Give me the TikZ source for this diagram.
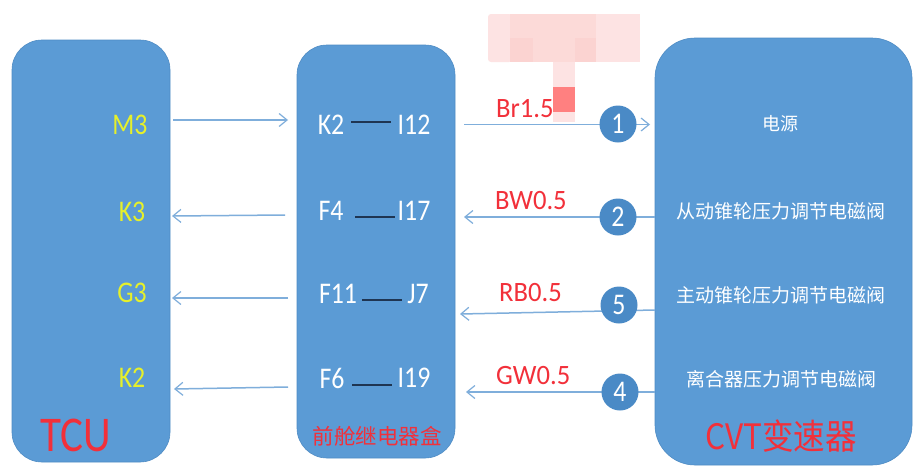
\documentclass[tikz,border=0pt]{standalone}
\usepackage{fontspec}
\setmainfont{Carlito}
\newfontfamily\cjk{Noto Sans CJK SC}
\newfontfamily\narrow[FakeStretch=.86]{Carlito}
\newfontfamily\semi[FakeStretch=.95]{Carlito}
\newfontfamily\cjknarrow[FakeStretch=.9]{Noto Sans CJK SC}
\definecolor{boxblue}{HTML}{5B9BD5}
\definecolor{circblue}{HTML}{4A8AC6}
\definecolor{edgeblue}{HTML}{4F8CC4}
\definecolor{arrowblue}{HTML}{7FAEDB}
\definecolor{labred}{HTML}{F2303A}
\definecolor{lime}{HTML}{E6F02A}
\definecolor{pinkA}{HTML}{FDE3E3}
\definecolor{pinkB}{HTML}{FBD3D1}
\definecolor{pinkC}{HTML}{FCDAD8}
\definecolor{pinkD}{HTML}{FF8080}
\definecolor{darkline}{HTML}{1F3552}
\usetikzlibrary{arrows.meta}
\tikzset{
  x=1pt,y=-1pt,
  panel/.style={draw=edgeblue,line width=.6pt,fill=boxblue,rounded corners=30pt,inner sep=0pt,minimum width=#1},
  pin/.style={text=lime,font=\narrow\fontsize{30}{30}\selectfont,inner sep=0pt},
  term/.style={text=white,font=\narrow\fontsize{30}{30}\selectfont,inner sep=0pt},
  wire/.style={text=labred,font=\semi\fontsize{28}{28}\selectfont,inner sep=0pt},
  func/.style={text=white,font=\cjk\fontsize{19}{19}\selectfont,inner sep=0pt},
  numc/.style={circle,fill=circblue,minimum size=37pt,inner sep=0pt,text=white,font=\narrow\fontsize{30}{30}\selectfont},
  conn/.style={draw=arrowblue,line width=1.5pt,-{Straight Barb[length=8pt,width=13pt,line width=1.2pt]}},
  link/.style={draw=darkline,line width=1.5pt},
}
\begin{document}
\begin{tikzpicture}
\useasboundingbox (0,0) rectangle (917,474);
\fill[white] (0,0) rectangle (917,474);
% panels
\node[panel=158pt,minimum height=422pt] (tcu) at (91,251) {};
\node[panel=158pt,minimum height=413pt] (relay) at (376,251.5) {};
\node[panel=257pt,minimum height=427pt,rounded corners=40pt] (cvt) at (783.5,251.5) {};
% mosaic
\fill[pinkA,rounded corners=3pt] (488,14) rectangle (512,62);
\fill[pinkC] (510,14) rectangle (533,38);
\fill[pinkB] (510,38) rectangle (533,62);
\fill[pinkC] (533,14) rectangle (552,62);
\fill[pinkC] (552,14) rectangle (575,62);
\fill[pinkC] (575,14) rectangle (596,38);
\fill[pinkB] (575,38) rectangle (596,62);
\fill[pinkA] (596,14) rectangle (640,62);
\fill[pinkA] (553,62) rectangle (575,87);
% TCU pins
\node[pin] (m3) at (130,125) {M3};
\node[pin] (k3) at (132,212) {K3};
\node[pin] (g3) at (132,293) {G3};
\node[pin] (k2) at (132,378) {K2};
\node[text=labred,font=\narrow\fontsize{50}{50}\selectfont,inner sep=0pt] (tcuT) at (76,435) {TCU};
% relay terminals
\node[term] (a1) at (331,125) {K2};
\node[term] (a2) at (414,125) {I12};
\node[term] (b1) at (331,211) {F4};
\node[term] (b2) at (414,211) {I17};
\node[term] (c1) at (338,294) {F11};
\node[term] (c2) at (418,294) {J7};
\node[term] (d1) at (332,378) {F6};
\node[term] (d2) at (414,378) {I19};
\draw[link] (351,122) -- (391,122);
\draw[link] (355,217) -- (395,217);
\draw[link] (362,300) -- (402,300);
\draw[link] (352,385) -- (392,385);
\node[text=labred,font=\cjk\fontsize{21.5}{22}\selectfont,inner sep=0pt] (relayT) at (377,436) {前舱继电器盒};
% CVT
\node[func,font=\cjk\fontsize{18}{18}\selectfont] (f1) at (780,124) {电源};
\node[func] (f2) at (781,211) {从动锥轮压力调节电磁阀};
\node[func] (f3) at (781,295) {主动锥轮压力调节电磁阀};
\node[func] (f4) at (781,379) {离合器压力调节电磁阀};
\node[text=labred,font=\cjknarrow\fontsize{35}{35}\selectfont,inner sep=0pt] (cvtT) at (781,436) {CVT变速器};
% wire labels
\node[wire,anchor=west] (w1) at (496,109) {Br1.5};
\node[wire,anchor=west] (w2) at (495,201) {BW0.5};
\node[wire,anchor=west] (w3) at (499,293) {RB0.5};
\node[wire,anchor=west] (w4) at (496,376) {GW0.5};
% covering block
\fill[pinkD] (553,87) rectangle (575,112);
\fill[pinkA] (553,112) rectangle (575,122);
% connector ends
\coordinate (l1a) at (173,120); \coordinate (l1b) at (288,120);
\coordinate (l2a) at (285,215); \coordinate (l2b) at (172,216);
\coordinate (l3a) at (288,298); \coordinate (l3b) at (172,298);
\coordinate (l4a) at (288,387); \coordinate (l4b) at (174,389);
\coordinate (r1a) at (464,124.5); \coordinate (r1b) at (650,124.5);
\coordinate (r2a) at (655,217); \coordinate (r2b) at (464,217);
\coordinate (r3a) at (655,310); \coordinate (r3b) at (460,314);
\coordinate (r4a) at (655,392); \coordinate (r4b) at (466,392);
\draw[conn] (l1a) -- (l1b);
\draw[conn] (l2a) -- (l2b);
\draw[conn] (l3a) -- (l3b);
\draw[conn] (l4a) -- (l4b);
\draw[conn] (r1a) -- (r1b);
\draw[conn] (r2a) -- (r2b);
\draw[conn] (r3a) -- (r3b);
\draw[conn] (r4a) -- (r4b);
% number circles
\node[numc] (n1) at (618,124) {1};
\node[numc] (n2) at (618,217) {2};
\node[numc] (n5) at (619,305) {5};
\node[numc] (n4) at (620,392) {4};
\end{tikzpicture}
\end{document}
